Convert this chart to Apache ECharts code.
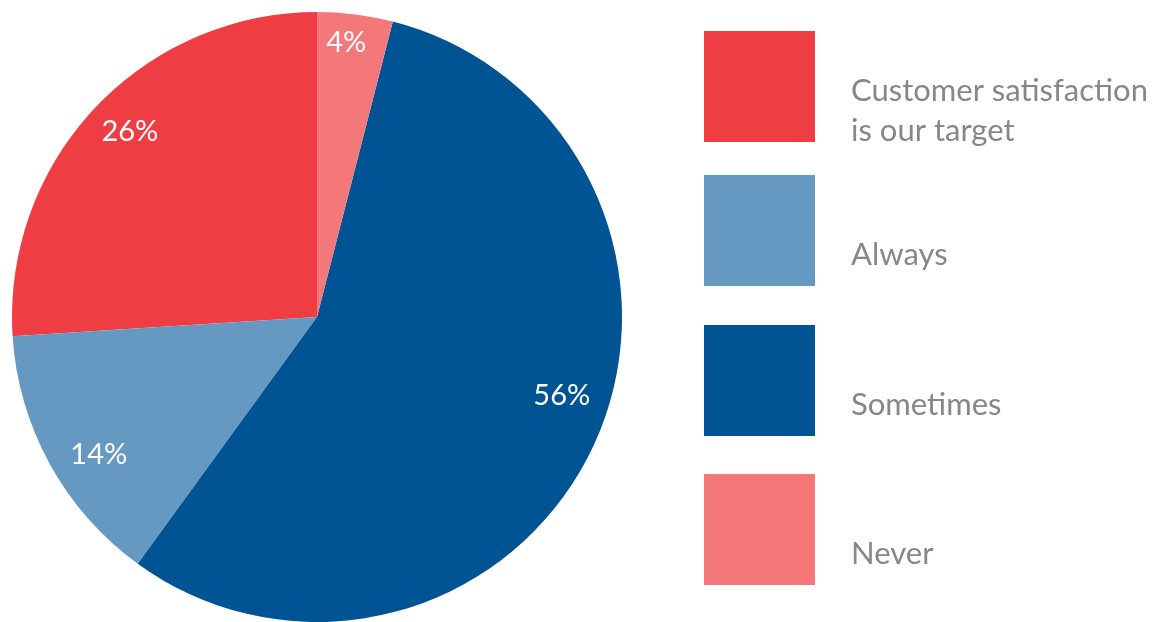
<!DOCTYPE html>
<html>
<head>
<meta charset="utf-8">
<script src="https://cdn.jsdelivr.net/npm/echarts@6/dist/echarts.min.js"></script>
<style>
  html, body { margin: 0; padding: 0; background: #ffffff; }
  #chart { width: 1169px; height: 622px; }
</style>
</head>
<body>
<div id="chart"></div>
<script>
// Survey answers, in legend order
const categories = ['Customer satisfaction\nis our target', 'Always', 'Sometimes', 'Never'];
const shares = [26, 14, 56, 4];
const sliceColors = ['#EE3E43', '#6699C1', '#005494', '#F4777A'];
// small offsets that settle each percentage label inside its slice
const labelNudge = [[6, -4], [14, 10], [5, -34], [-4, -11]];

const FONT = 'Lato, "Open Sans", sans-serif';
const TEXT_GREY = '#86878B';
const PIE_CENTER = [317, 317];
const PIE_R = 305;

// one legend block per answer, stacked down the right side
// (the two-line block's text box reaches a few pixels above its swatch)
const legendTops = [27, 175, 325, 474];

const sliceData = categories.map((name, i) => ({
  name: name,
  value: shares[i],
  itemStyle: { color: sliceColors[i] }
}));
const labelData = categories.map((name, i) => ({ name: name, value: shares[i] }));

// every legend line sits a little below its swatch's middle
const lineStyle = {
  fontFamily: FONT,
  fontSize: 31,
  color: TEXT_GREY,
  lineHeight: 40,
  padding: [48, 0, 0, 31]
};

const legends = categories.map((name, i) => ({
  orient: 'vertical',
  left: 704,
  top: legendTops[i],
  padding: 0,
  icon: 'rect',
  itemWidth: 111,
  itemHeight: 111,
  selectedMode: false,
  data: [name],
  formatter: function (n) {
    return n.split('\n').map(function (line) { return '{ln|' + line + '}'; }).join('\n');
  },
  textStyle: {
    fontFamily: FONT,
    fontSize: 31,
    color: TEXT_GREY,
    lineHeight: 40,
    rich: { ln: lineStyle }
  }
}));

const chart = echarts.init(document.getElementById('chart'), null, { renderer: 'canvas' });

chart.setOption({
  animation: false,
  backgroundColor: '#ffffff',
  legend: legends,
  series: [
    {
      type: 'pie',
      center: PIE_CENTER,
      radius: [0, PIE_R],
      startAngle: 90,
      clockwise: false,
      label: { show: false },
      labelLine: { show: false },
      emphasis: { disabled: true },
      data: sliceData
    },
    {
      // ring used only to place the percentage labels near the rim
      type: 'pie',
      silent: true,
      center: PIE_CENTER,
      radius: [219, PIE_R],
      startAngle: 90,
      clockwise: false,
      itemStyle: { color: 'rgba(0,0,0,0)' },
      emphasis: { disabled: true },
      labelLine: { show: false },
      label: {
        show: true,
        position: 'inside',
        formatter: '{c}%',
        color: '#ffffff',
        fontFamily: FONT,
        fontSize: 29
      },
      labelLayout: function (params) {
        const n = labelNudge[params.dataIndex];
        return { dx: n[0], dy: n[1] };
      },
      data: labelData
    }
  ]
});
</script>
</body>
</html>
